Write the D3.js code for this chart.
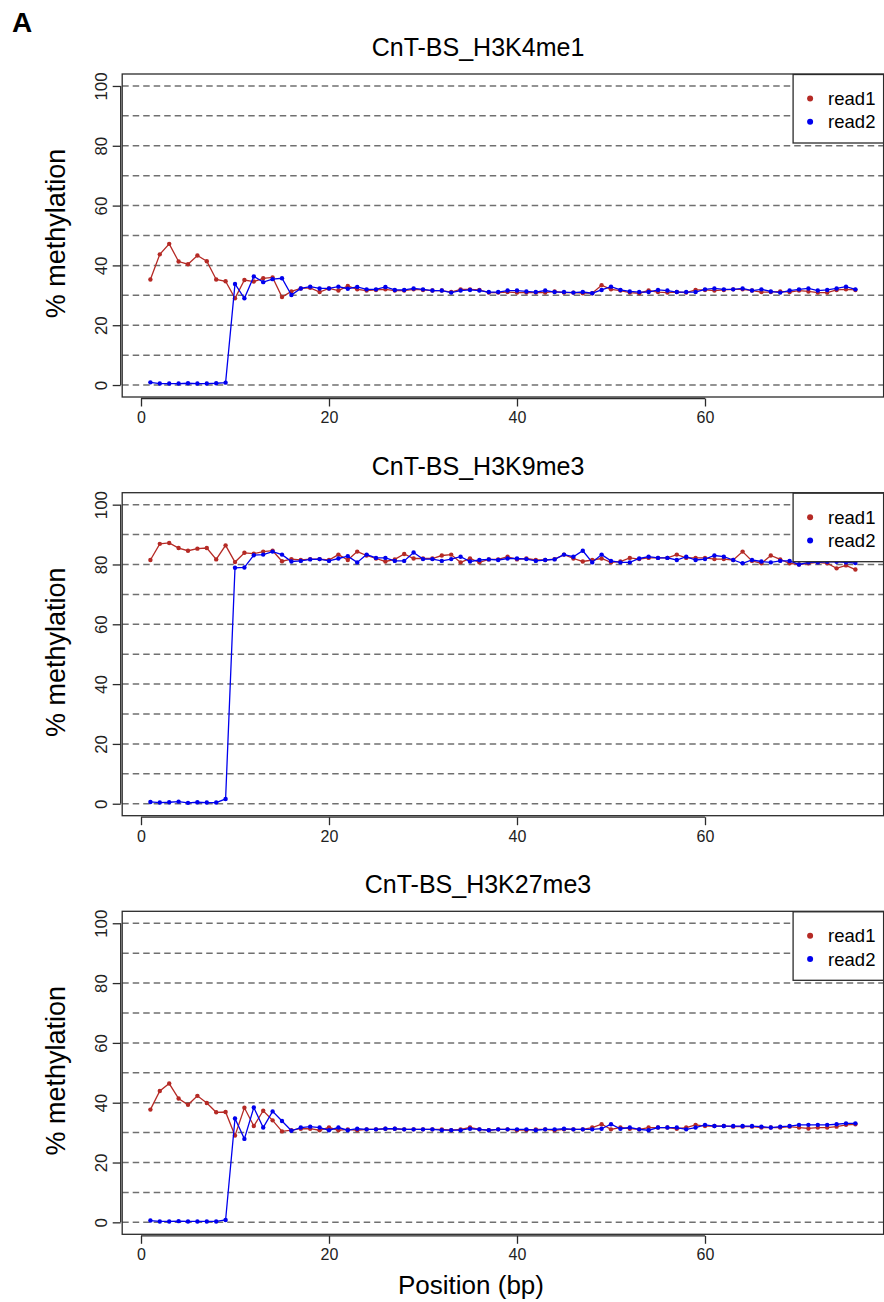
<!DOCTYPE html>
<html>
<head>
<meta charset="utf-8">
<script src="https://cdn.jsdelivr.net/npm/d3@7"></script>
<style>
  body { margin: 0; background: #fff; }
  svg { display: block; font-family: "Liberation Sans", Arial, sans-serif; }
</style>
</head>
<body>
<svg id="chart" width="884" height="1302"></svg>
<script>
/* ---------- data ---------- */
const positions = d3.range(1, 77);            // CpG position 1..76 (bp)
const seriesNames = ['read1', 'read2'];
const panelTitles = ['CnT-BS_H3K4me1', 'CnT-BS_H3K9me3', 'CnT-BS_H3K27me3'];
const yTicks = [0, 20, 40, 60, 80, 100];
const xTicks = [0, 20, 40, 60];
const gridLevels = [0, 10, 20, 30, 40, 50, 60, 70, 80, 90, 100];

const h3k4me1_read1 = [35.3, 43.7, 47.2, 41.3, 40.4, 43.3, 41.4, 35.3, 34.7, 29.0, 35.1, 34.6, 35.7, 36.0, 29.4, 31.3,
  32.3, 32.5, 31.1, 32.3, 31.6, 33.1, 32.0, 31.6, 31.8, 32.0, 31.6, 31.6, 32.0, 31.8, 31.6, 31.6, 31.1, 32.0, 32.0, 31.8,
  30.9, 30.9, 31.1, 30.9, 30.9, 30.9, 30.9, 31.3, 30.9, 30.9, 30.7, 30.7, 33.4, 32.0, 31.6, 30.9, 30.7, 31.6, 31.1, 30.9,
  31.1, 30.9, 31.8, 31.8, 31.6, 31.8, 32.0, 32.0, 31.6, 31.1, 31.1, 31.3, 31.1, 31.6, 31.3, 30.9, 30.9, 31.8, 32.0, 31.8];
const h3k4me1_read2 = [0.9, 0.5, 0.5, 0.5, 0.6, 0.5, 0.5, 0.6, 0.8, 33.8, 29.0, 36.3, 34.4, 35.4, 35.7, 30.1,
  32.3, 32.9, 32.3, 32.3, 32.9, 32.2, 32.8, 32.0, 32.0, 32.8, 31.8, 31.8, 32.3, 32.0, 31.6, 31.6, 30.9, 31.6, 31.8, 31.6,
  31.1, 31.1, 31.6, 31.6, 31.3, 31.1, 31.6, 31.1, 31.1, 30.9, 31.1, 30.7, 31.8, 32.9, 31.8, 31.3, 31.1, 31.1, 31.8, 31.6,
  31.1, 31.1, 31.1, 32.0, 32.3, 32.0, 32.0, 32.3, 31.6, 32.0, 31.3, 30.9, 31.6, 32.0, 32.3, 31.6, 31.8, 32.3, 32.9, 32.0];

const h3k9me3_read1 = [81.5, 86.9, 87.2, 85.5, 84.6, 85.3, 85.5, 81.7, 86.4, 80.8, 83.9, 83.6, 84.3, 84.6, 81.1, 81.8,
  81.5, 81.8, 81.8, 81.5, 83.3, 81.5, 84.3, 83.0, 82.0, 81.0, 81.7, 83.5, 82.0, 82.0, 82.0, 83.0, 83.3, 80.7, 82.0, 80.7,
  81.7, 81.7, 82.6, 81.7, 82.0, 81.5, 81.5, 81.8, 83.3, 82.0, 81.0, 81.5, 82.0, 80.7, 81.0, 82.2, 81.8, 82.2, 82.2, 82.2,
  83.3, 82.2, 82.2, 82.2, 81.8, 81.8, 81.5, 84.3, 81.2, 80.4, 83.0, 81.7, 80.4, 80.0, 80.4, 80.7, 80.4, 78.7, 79.7, 78.3];
const h3k9me3_read2 = [0.6, 0.4, 0.5, 0.7, 0.3, 0.5, 0.4, 0.4, 1.6, 78.9, 79.0, 83.1, 83.3, 84.3, 83.3, 81.0,
  81.2, 81.7, 81.8, 81.2, 82.0, 82.8, 80.7, 83.3, 82.2, 82.2, 81.2, 81.2, 84.0, 81.8, 81.8, 81.2, 81.8, 82.6, 81.0, 81.5,
  81.7, 81.5, 82.0, 82.0, 81.8, 81.2, 81.5, 81.7, 83.3, 82.6, 84.6, 80.7, 83.3, 81.2, 80.7, 80.7, 82.0, 82.6, 82.2, 82.2,
  81.5, 82.6, 81.5, 81.8, 83.0, 82.6, 81.5, 80.4, 81.5, 81.0, 80.7, 81.2, 81.2, 80.0, 80.7, 80.7, 80.9, 80.9, 80.7, 80.5];

const h3k27me3_read1 = [37.7, 43.9, 46.4, 41.4, 39.3, 42.3, 39.9, 36.8, 36.9, 29.0, 38.3, 32.2, 37.3, 34.1, 30.4, 30.8,
  31.3, 31.3, 30.8, 31.7, 30.8, 31.1, 30.8, 31.1, 31.1, 31.3, 31.3, 31.1, 31.1, 31.1, 31.1, 31.1, 30.8, 31.1, 31.7, 31.1,
  30.8, 31.1, 31.1, 30.8, 30.8, 31.1, 31.1, 30.8, 31.1, 31.1, 31.1, 31.7, 32.8, 31.1, 31.7, 31.3, 31.1, 31.7, 31.7, 31.7,
  31.3, 31.7, 32.6, 32.2, 32.2, 32.2, 32.0, 32.0, 32.0, 31.7, 31.7, 31.7, 32.0, 31.7, 31.4, 31.7, 31.7, 32.0, 32.6, 32.8];
const h3k27me3_read2 = [0.6, 0.3, 0.3, 0.4, 0.3, 0.3, 0.3, 0.3, 0.8, 34.7, 27.9, 38.4, 31.7, 37.1, 33.9, 30.6,
  31.7, 32.0, 31.7, 30.8, 31.7, 30.8, 31.3, 31.1, 31.1, 31.3, 31.3, 31.1, 31.1, 31.1, 31.1, 30.8, 30.8, 30.8, 31.3, 31.1,
  30.8, 31.1, 31.1, 31.1, 31.1, 30.8, 31.1, 31.1, 31.3, 31.1, 31.1, 31.1, 31.3, 32.8, 31.3, 31.7, 31.1, 30.8, 31.7, 31.7,
  31.7, 31.1, 31.7, 32.6, 32.2, 32.2, 32.2, 32.2, 32.2, 32.0, 31.7, 32.0, 32.2, 32.6, 32.6, 32.6, 32.6, 32.8, 33.1, 33.1];

const panels = [
  { title: panelTitles[0], reads: [h3k4me1_read1, h3k4me1_read2] },
  { title: panelTitles[1], reads: [h3k9me3_read1, h3k9me3_read2] },
  { title: panelTitles[2], reads: [h3k27me3_read1, h3k27me3_read2] },
];

/* ---------- layout ---------- */
const colors = ['#b52a25', '#0000ee'];
const boxL = 122.2, boxR = 883.6, boxH = 323;
const panelTops = [74, 492.7, 911.3];
const titleX = 478;            // titles sit a bit left of the frame centre in the source
const ink = '#2b2b2b';
const font = '"Liberation Sans", Arial, sans-serif';

const svg = d3.select('#chart');
const x = d3.scaleLinear().domain([-2, 79]).range([boxL, boxR]);

svg.append('text').attr('x', 12).attr('y', 32)
  .attr('font-size', 28).attr('font-weight', 700).attr('fill', '#000').text('A');

panels.forEach((p, k) => {
  const top = panelTops[k], bottom = top + boxH;
  const y = d3.scaleLinear().domain([-4, 104]).range([bottom, top]);
  const g = svg.append('g');

  // dashed horizontal grid
  g.selectAll('line.grid').data(gridLevels).join('line')
    .attr('class', 'grid')
    .attr('x1', boxL).attr('x2', boxR)
    .attr('y1', d => y(d)).attr('y2', d => y(d))
    .attr('stroke', '#707070').attr('stroke-width', 1.5)
    .attr('stroke-dasharray', '6.5,4');

  // series lines + points
  p.reads.forEach((vals, s) => {
    const pts = positions.map((pos, i) => [pos, vals[i]]);
    g.append('path')
      .attr('d', d3.line().x(d => x(d[0])).y(d => y(d[1]))(pts))
      .attr('fill', 'none').attr('stroke', colors[s]).attr('stroke-width', 1.3);
    g.selectAll(null).data(pts).join('circle')
      .attr('cx', d => x(d[0])).attr('cy', d => y(d[1])).attr('r', 2.2)
      .attr('fill', colors[s]);
  });

  // frame
  g.append('rect').attr('x', boxL).attr('y', top).attr('width', boxR - boxL).attr('height', boxH)
    .attr('fill', 'none').attr('stroke', ink).attr('stroke-width', 1.3);

  // y axis
  const ya = g.append('g').attr('transform', `translate(${boxL - 1.5},0)`)
    .call(d3.axisLeft(y).tickValues(yTicks).tickSize(8).tickSizeOuter(0));
  ya.select('.domain').attr('d', `M0,${y(0)}V${y(100)}`).attr('stroke', ink).attr('stroke-width', 1.3);
  ya.selectAll('.tick line').attr('stroke', ink).attr('stroke-width', 1.3);
  ya.selectAll('.tick text')
    .attr('x', null).attr('dy', null).attr('text-anchor', 'middle')
    .attr('transform', 'translate(-14,0) rotate(-90)')
    .attr('font-size', 16.8).attr('font-family', font).attr('fill', '#222');

  // x axis
  const xa = g.append('g').attr('transform', `translate(0,${bottom + 1.5})`)
    .call(d3.axisBottom(x).tickValues(xTicks).tickSize(8).tickSizeOuter(0));
  xa.select('.domain').attr('d', `M${x(0)},0H${x(60)}`).attr('stroke', ink).attr('stroke-width', 1.3);
  xa.selectAll('.tick line').attr('stroke', ink).attr('stroke-width', 1.3);
  xa.selectAll('.tick text')
    .attr('y', 13).attr('font-size', 16).attr('font-family', font).attr('fill', '#222');

  // title
  g.append('text').attr('x', titleX).attr('y', top - 18)
    .attr('text-anchor', 'middle').attr('font-size', 25).attr('fill', '#000').text(p.title);

  // y axis title
  g.append('text')
    .attr('transform', `translate(65,${(top + bottom) / 2 - 2}) rotate(-90)`)
    .attr('text-anchor', 'middle').attr('font-size', 27).attr('fill', '#000').text('% methylation');

  // legend
  const lg = g.append('g').attr('transform', `translate(${boxR - 90.5},${top + 0.5})`);
  lg.append('rect').attr('width', 90.5).attr('height', 68.5)
    .attr('fill', '#fff').attr('stroke', ink).attr('stroke-width', 1.3);
  seriesNames.forEach((name, s) => {
    lg.append('circle').attr('cx', 17).attr('cy', 24 + s * 23.3).attr('r', 3).attr('fill', colors[s]);
    lg.append('text').attr('x', 35).attr('y', 24 + s * 23.3 + 6.5)
      .attr('font-size', 18.5).attr('fill', '#000').text(name);
  });
});

svg.append('text').attr('x', 471).attr('y', 1294)
  .attr('text-anchor', 'middle').attr('font-size', 26).attr('fill', '#000').text('Position (bp)');
</script>
</body>
</html>
